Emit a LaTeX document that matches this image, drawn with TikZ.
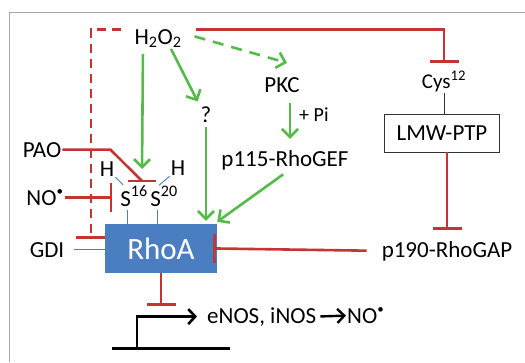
\documentclass[tikz,border=0pt]{standalone}
\usepackage{fontspec}
\setmainfont{Carlito}
\usetikzlibrary{arrows.meta,positioning,calc}
\definecolor{inhred}{RGB}{196,52,48}
\definecolor{actgreen}{RGB}{84,186,72}
\definecolor{rhoblue}{RGB}{74,126,193}
\newcommand{\nodot}{\textsuperscript{\fontsize{13}{13}\selectfont •}}

\begin{document}
\begin{tikzpicture}[x=1pt, y=-1pt, font=\fontsize{23}{27}\selectfont, lbl/.style={inner sep=1pt, anchor=base}, inh/.style={draw=inhred, line width=2.6pt, -{Bar[width=29pt]}}, act/.style={draw=actgreen, line width=2.6pt, -{Straight Barb[length=8pt,width=16pt]}}, link/.style={draw=rhoblue, line width=0.9pt}]
\useasboundingbox (0,0) rectangle (525,362);
\draw[black!35, line width=1pt] (9,362) -- (9,12) -- (525,12);
% nodes
\node[lbl] (h2o2) at (158,44) {H\textsubscript{2}O\textsubscript{2}};
\node[lbl, font=\fontsize{21}{24}\selectfont] (cys) at (444,88) {Cys\textsuperscript{12}};
\node[draw=black!80, line width=0.9pt, minimum width=115pt, minimum height=38pt] (lmw) at (442,133) {LMW-PTP};
\node[lbl] (pkc) at (282,92) {PKC};
\node[lbl, anchor=base west, font=\fontsize{20}{24}\selectfont] (pi) at (298,121) {+ Pi};
\node[lbl] (pgef) at (285,166) {p115-RhoGEF};
\node[lbl] (q) at (206,122) {?};
\node[lbl] (pao) at (42,157) {PAO};
\node[lbl] (hl) at (107,176) {H};
\node[lbl] (hr) at (178,175) {H};
\node[lbl] (no) at (45,205) {NO\nodot};
\node[lbl] (s16) at (134,206) {S\textsuperscript{16}};
\node[lbl] (s20) at (164,206) {S\textsuperscript{20}};
\node[fill=rhoblue, minimum width=112pt, minimum height=49pt, text=white, font=\fontsize{31}{36}\selectfont] (rhoa) at (161,248.5) {RhoA};
\node[lbl] (gdi) at (47,257) {GDI};
\node[lbl] (pgap) at (447,257) {p190-RhoGAP};
\node[lbl, anchor=base west] (enos) at (206,323) {eNOS, iNOS};
\node[lbl, anchor=base west] (noprod) at (346,323) {NO\nodot};
\coordinate (pbar) at (142,181);
\coordinate (s16foot) at (127,210);
\coordinate (s20foot) at (157,210);
\coordinate (tss) at (137,348);
% H2O2 targets
\draw[inh, dash pattern=on 9pt off 6pt] ([shift={(-12pt,9pt)}]h2o2.west) -| ([shift={(-14pt,9.5pt)}]rhoa.west);
\draw[inh] ([shift={(13pt,9pt)}]h2o2.east) -| ([yshift=7pt]cys.north);
\draw[act, shorten <=5pt] ([xshift=-15pt]h2o2.south) -- ([yshift=12pt]pbar);
\draw[act, shorten >=4pt] ([xshift=13pt]h2o2.south) -- (q.north west);
\draw[act, dash pattern=on 11pt off 8pt] ([shift={(12pt,2pt)}]h2o2.east) -- ([shift={(5pt,13pt)}]pkc.north);
% PAO, NO and the two cysteines
\draw[inhred, line width=2.6pt] (pao.east) -- ++(48,0) -- (pbar);
\draw[inhred, line width=2.6pt] ([xshift=-14pt]pbar) -- ([xshift=14pt]pbar);
\draw[inh, shorten >=7pt] (no.east) -- (no.east -| s16.west);
\draw[link] (hl.south east) -- ([xshift=4pt]s16.north west);
\draw[link] (hr.south west) -- ([xshift=-5pt]s20.north);
\draw[link] (s16foot) -- (s16foot |- rhoa.north);
\draw[link] (s20foot) -- (s20foot |- rhoa.north);
% upstream of RhoA
\draw[act, shorten <=4pt, shorten >=3pt] (q.south) -- (q.south |- rhoa.north);
\draw[act, shorten <=10pt, shorten >=10pt] ([xshift=8pt]pkc.south) -- ([xshift=5pt]pgef.north);
\draw[act, shorten <=6pt] ([xshift=3pt]pgef.south) -- ([yshift=2pt]rhoa.north east);
\draw[black!80, line width=0.9pt] (cys.south) -- (cys.south |- lmw.north);
\draw[inh, shorten >=10pt] (lmw.south -| pgap.north) -- (pgap.north);
\draw[inh, shorten <=14pt, shorten >=-4pt] (pgap.west) -- (rhoa.east);
\draw[rhoblue, line width=1.4pt, shorten <=9pt] (gdi.east) -- (gdi.east -| rhoa.west);
% gene
\draw[inh] (rhoa.south) -- (rhoa.south |- enos.north);
\draw[line width=3pt] (112,348) -- (230,348);
\draw[line width=2.6pt, -{Straight Barb[length=7pt,width=15pt]}, shorten >=9pt] (tss) |- (enos.west);
\draw[line width=2.4pt, -{Straight Barb[length=7pt,width=14pt]}, shorten <=3pt] (enos.east) -- (noprod.west);
\end{tikzpicture}
\end{document}
